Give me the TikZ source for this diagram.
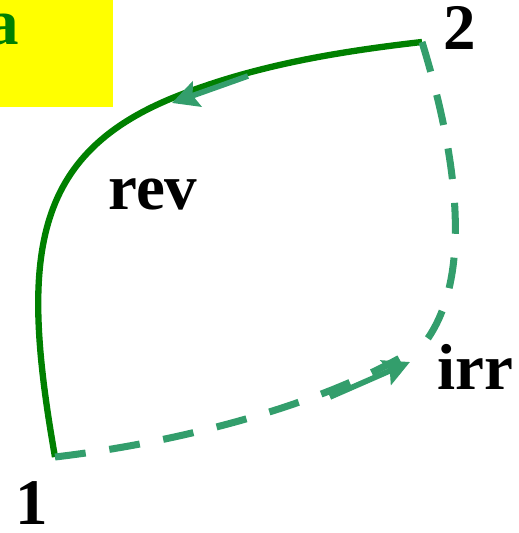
\documentclass[tikz,border=0pt]{standalone}
\usepackage{fontspec}
\setmainfont{Liberation Serif}
\usetikzlibrary{arrows.meta, positioning}
\definecolor{pathGreen}{HTML}{008000}
\definecolor{flowGreen}{HTML}{339E6C}
\definecolor{tagYellow}{HTML}{FFFF00}

\begin{document}
\begin{tikzpicture}[
  lbl/.style={font=\fontsize{37}{40}\selectfont\bfseries, inner sep=0pt},
  revpath/.style={draw=pathGreen, line width=3.6pt},
  irrpath/.style={draw=flowGreen, line width=4pt, dash pattern=on 17.6pt off 13.6pt},
  flow/.style={draw=flowGreen, line width=3.2pt,
               -{Stealth[length=15pt, width=15pt, inset=2.5pt]}},
]
\clip (0,0) rectangle (10.36,10.66);
\useasboundingbox (0,0) rectangle (10.36,10.66);

% ======================= tag ============================================
\fill[tagYellow] (0,8.52) rectangle (2.26,10.66);
\node[lbl, text=pathGreen, anchor=base east] (tag) at (0.38,9.76) {a};

% ======================= states =========================================
\coordinate (p1) at (1.1,1.52);
\coordinate (p2) at (8.44,9.82);
\coordinate (bend) at (3.6,8.76);
\coordinate (turn) at (8.46,3.76);
\coordinate (join) at (8.0,3.5);
\node[lbl, anchor=base west] (n1) at (0.3,0.16) {1};
\node[lbl, anchor=base west] (n2) at (8.86,9.66) {2};

% ======================= reversible path ================================
\draw[revpath] (p1) .. controls (0.4,5.5) and (0.6,7.6) .. (bend)
  .. controls (5.0,9.3) and (6.5,9.6) .. (p2);
\node[lbl, anchor=base west] (rev) at (2.16,6.46) {rev};
\coordinate (ra) at (4.96,9.14);
\coordinate (rb) at (3.44,8.6);
\draw[flow] (ra) -- (rb);

% ======================= irreversible path ==============================
\draw[irrpath] (p2) .. controls (9.0,8.0) and (9.6,5.2) .. (turn);
\draw[irrpath] (p1) .. controls (3.5,1.8) and (6.2,2.5) .. (join);
\coordinate (ia) at (6.6,2.72);
\coordinate (ib) at (8.2,3.42);
\draw[flow] (ia) -- (ib);
\node[lbl, anchor=base west] (irr) at (8.74,2.86) {irr};
\end{tikzpicture}
\end{document}
